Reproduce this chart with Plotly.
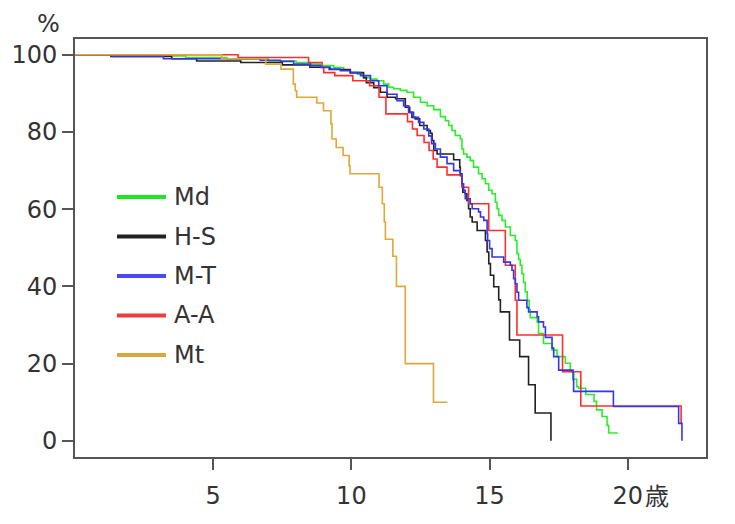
import plotly.graph_objects as go

# ---------------- data (Kaplan-Meier steps: time in years, survival %) -------------
md_x = [0, 2.5, 4.0, 5.5, 7.0, 8.0, 8.52, 8.88, 9.36, 9.72, 9.96, 10.21, 10.44, 10.69, 10.93,
        11.17, 11.35, 11.53, 11.77, 12.01, 12.25, 12.50, 12.74, 12.98, 13.22, 13.40, 13.52,
        13.64, 13.76, 13.94, 14.00, 14.06, 14.18, 14.30, 14.42, 14.60, 14.73, 14.85, 14.97,
        15.09, 15.21, 15.27, 15.33, 15.45, 15.57, 15.75, 15.93, 15.99, 16.05, 16.11, 16.17,
        16.23, 16.29, 16.36, 16.43, 16.47, 16.72, 16.77, 16.95, 17.26, 17.44, 17.74, 17.92,
        18.05, 18.15, 18.22, 18.48, 18.78, 18.87, 19.07, 19.25, 19.31, 19.64]
md_y = [100, 99.7, 99.3, 98.9, 98.4, 98.0, 97.6, 97.2, 96.7, 96.0, 95.4, 95.0, 94.1, 93.7, 93.3,
        92.4, 91.6, 91.2, 90.8, 90.3, 89.0, 87.7, 86.8, 85.8, 84.0, 82.9, 81.7,
        80.4, 79.1, 78.2, 75.6, 74.3, 73.5, 72.6, 70.9, 69.2, 67.9, 66.6, 64.9,
        64.0, 61.8, 60.1, 58.4, 57.1, 55.4, 53.2, 51.9, 48.5, 47.0, 45.5, 43.3,
        41.0, 38.6, 36.4, 34.0, 31.9, 30.8, 27.8, 25.2, 23.5, 21.8, 20.1, 17.9,
        16.0, 14.0, 13.6, 12.0, 10.2, 8.0, 6.3, 4.0, 2.0, 2.0]

hs_x = [0, 1.3, 3.5, 4.4, 6.0, 7.5, 8.5, 9.2, 9.96, 10.44, 10.54, 10.81, 11.05, 11.29, 11.6,
        11.95, 12.11, 12.19, 12.31, 12.47, 12.74, 12.86, 12.92, 12.98, 13.10, 13.70, 13.92,
        13.94, 14.00, 14.03, 14.12, 14.18, 14.24, 14.30, 14.37, 14.55, 14.85, 14.91, 14.97,
        15.03, 15.15, 15.33, 15.39, 15.72, 16.09, 16.41, 16.65, 17.22]
hs_y = [100, 99.6, 99.0, 98.4, 98.0, 97.4, 96.8, 96.2, 95.4, 94.1, 92.8, 91.5, 90.3, 89.0, 88.6,
        86.4, 85.1, 83.8, 83.4, 81.7, 80.4, 79.7, 77.8, 75.2, 74.3, 72.8, 70.9,
        69.2, 66.1, 64.4, 64.0, 62.3, 60.1, 58.0, 56.7, 54.5, 51.9, 48.9, 45.9,
        42.9, 39.9, 36.5, 33.4, 26.1, 21.8, 14.5, 7.2, 0]

mt2_x = [0, 1.35, 3.2, 6.7, 7.43, 7.91, 8.52, 8.88, 9.24, 9.60, 9.96, 10.33, 10.69, 10.99,
         11.29, 11.65, 11.89, 12.07, 12.25, 12.43, 12.62, 12.80, 12.90, 13.04, 13.22, 13.46,
         13.70, 13.94, 14.00, 14.06, 14.12, 14.30, 14.37, 14.60, 14.67, 14.79, 14.91, 14.93,
         15.00, 15.09, 15.51, 15.75, 15.81, 15.87, 15.93, 15.99, 16.05, 16.35, 16.41, 16.72,
         16.77, 16.95, 17.02, 17.26, 17.32, 17.50, 18.02, 18.04, 19.48, 21.84, 21.96]
mt2_y = [100, 99.6, 99.0, 98.6, 98.3, 97.6, 97.2, 96.7, 96.3, 95.9, 95.4, 94.6, 93.3, 92.0,
         89.8, 88.1, 86.8, 85.1, 83.8, 82.5, 80.8, 79.0, 77.0, 75.6, 73.5, 71.8,
         70.0, 68.7, 66.6, 64.9, 62.7, 61.4, 60.1, 59.3, 58.0, 57.1, 53.7, 51.9,
         49.8, 47.6, 46.3, 45.5, 44.2, 42.0, 40.7, 38.5, 36.4, 34.5, 33.4, 32.1,
         30.8, 29.5, 26.8, 24.0, 21.8, 18.3, 15.8, 12.8, 8.9, 4.5, 0]

aa_x = [0, 5.9, 8.45, 8.94, 9.0, 9.4, 10.05, 10.66, 11.0, 11.25, 12.03, 12.21, 12.38, 12.63,
        12.81, 12.96, 13.10, 13.46, 14.0, 14.24, 14.97, 15.57, 15.93, 15.99, 17.64, 18.30, 21.93]
aa_y = [100, 99.3, 98.0, 96.7, 95.4, 94.6, 93.3, 92.0, 89.0, 84.7, 82.7, 80.8, 79.1, 77.3,
        75.2, 73.0, 70.9, 68.9, 65.7, 61.4, 54.5, 45.5, 36.4, 27.4, 17.9, 9.0, 4.5]

mt_x = [0, 5.3, 6.9, 7.45, 7.9, 7.97, 8.02, 8.75, 8.99, 9.26, 9.30, 9.45, 9.70, 9.92, 9.95,
        11.0, 11.12, 11.19, 11.23, 11.5, 11.63, 11.95, 12.97, 13.47]
mt_y = [100, 99.0, 97.6, 96.3, 92.4, 90.7, 89.0, 87.5, 85.5, 82.1, 78.2, 76.0, 73.9, 71.3, 69.2,
        65.7, 61.4, 56.7, 52.2, 47.8, 40.0, 20.0, 10.0, 10.0]

series_names = ["Md", "H-S", "M-T", "A-A", "Mt"]
x_ticks = [5, 10, 15, 20]
x_ticktext = ["5", "10", "15", "20"]
y_ticks = [0, 20, 40, 60, 80, 100]
x_unit = "歳"
y_unit = "%"

# ---------------- styling ----------------
line_colors = {"Md": "#2bee2b", "H-S": "#222222", "M-T": "#3535ee", "A-A": "#ff2e2e", "Mt": "#e0a836"}
legend_colors = {"Md": "#22e622", "H-S": "#222222", "M-T": "#4a4af0", "A-A": "#f03c3c", "Mt": "#d6aa3a"}
FONT = "DejaVu Sans, Verdana, sans-serif"
OFF = 8  # page body margin in the browser
W, H = 735 - OFF, 524 - OFF
# target plot box in window pixels: left 75, right 706, top 39, bottom 457
L, R, T, B = 75 - OFF, 735 - 706, 39 - OFF, 524 - 457
PW, PH = W - L - R, H - T - B


def px_x(px):
    return (px - OFF - L) / PW


def px_y(py):
    return (H - B - (py - OFF)) / PH


data = {
    "Md": (md_x, md_y),
    "H-S": (hs_x, hs_y),
    "M-T": (mt2_x, mt2_y),
    "A-A": (aa_x, aa_y),
    "Mt": (mt_x, mt_y),
}

fig = go.Figure()
for name in ["Md", "H-S", "A-A", "M-T", "Mt"]:
    xs, ys = data[name]
    fig.add_trace(go.Scatter(x=xs, y=ys, mode="lines", name=name, showlegend=False,
                             line=dict(color=line_colors[name], width=1.6, shape="hv")))

# manual legend
shapes = []
annotations = []
leg_y = [197, 236.5, 276, 315.5, 355]
for name, py in zip(series_names, leg_y):
    shapes.append(dict(type="line", xref="paper", yref="paper",
                       x0=px_x(117), x1=px_x(166), y0=px_y(py), y1=px_y(py),
                       line=dict(color=legend_colors[name], width=4)))
    annotations.append(dict(text=name, xref="paper", yref="paper", x=px_x(172), y=px_y(py),
                            xanchor="left", yanchor="middle", showarrow=False,
                            font=dict(family=FONT, size=24, color="#333333")))

annotations.append(dict(text=y_unit, xref="paper", yref="paper", x=px_x(48), y=px_y(24),
                        xanchor="center", yanchor="middle", showarrow=False,
                        font=dict(family=FONT, size=24, color="#333333")))
annotations.append(dict(text=x_unit, xref="paper", yref="paper", x=px_x(657), y=px_y(495),
                        xanchor="center", yanchor="middle", showarrow=False,
                        font=dict(family="Noto Sans CJK JP", size=24, color="#333333")))

axis_common = dict(showgrid=False, zeroline=False, showline=True, mirror=True,
                   linecolor="#555555", linewidth=2, ticks="outside", ticklen=11,
                   tickwidth=1.5, tickcolor="#555555", automargin=False,
                   tickfont=dict(family=FONT, size=24, color="#333333"))

fig.update_layout(
    width=W, height=H,
    margin=dict(l=L, r=R, t=T, b=B),
    paper_bgcolor="white", plot_bgcolor="white",
    xaxis=dict(range=[0, 22.83], tickvals=x_ticks, ticktext=x_ticktext,
               ticklabelstandoff=5, **axis_common),
    yaxis=dict(range=[-4.2, 104.1], tickvals=y_ticks, **axis_common),
    shapes=shapes, annotations=annotations, showlegend=False,
)

fig.write_html("out.html")
